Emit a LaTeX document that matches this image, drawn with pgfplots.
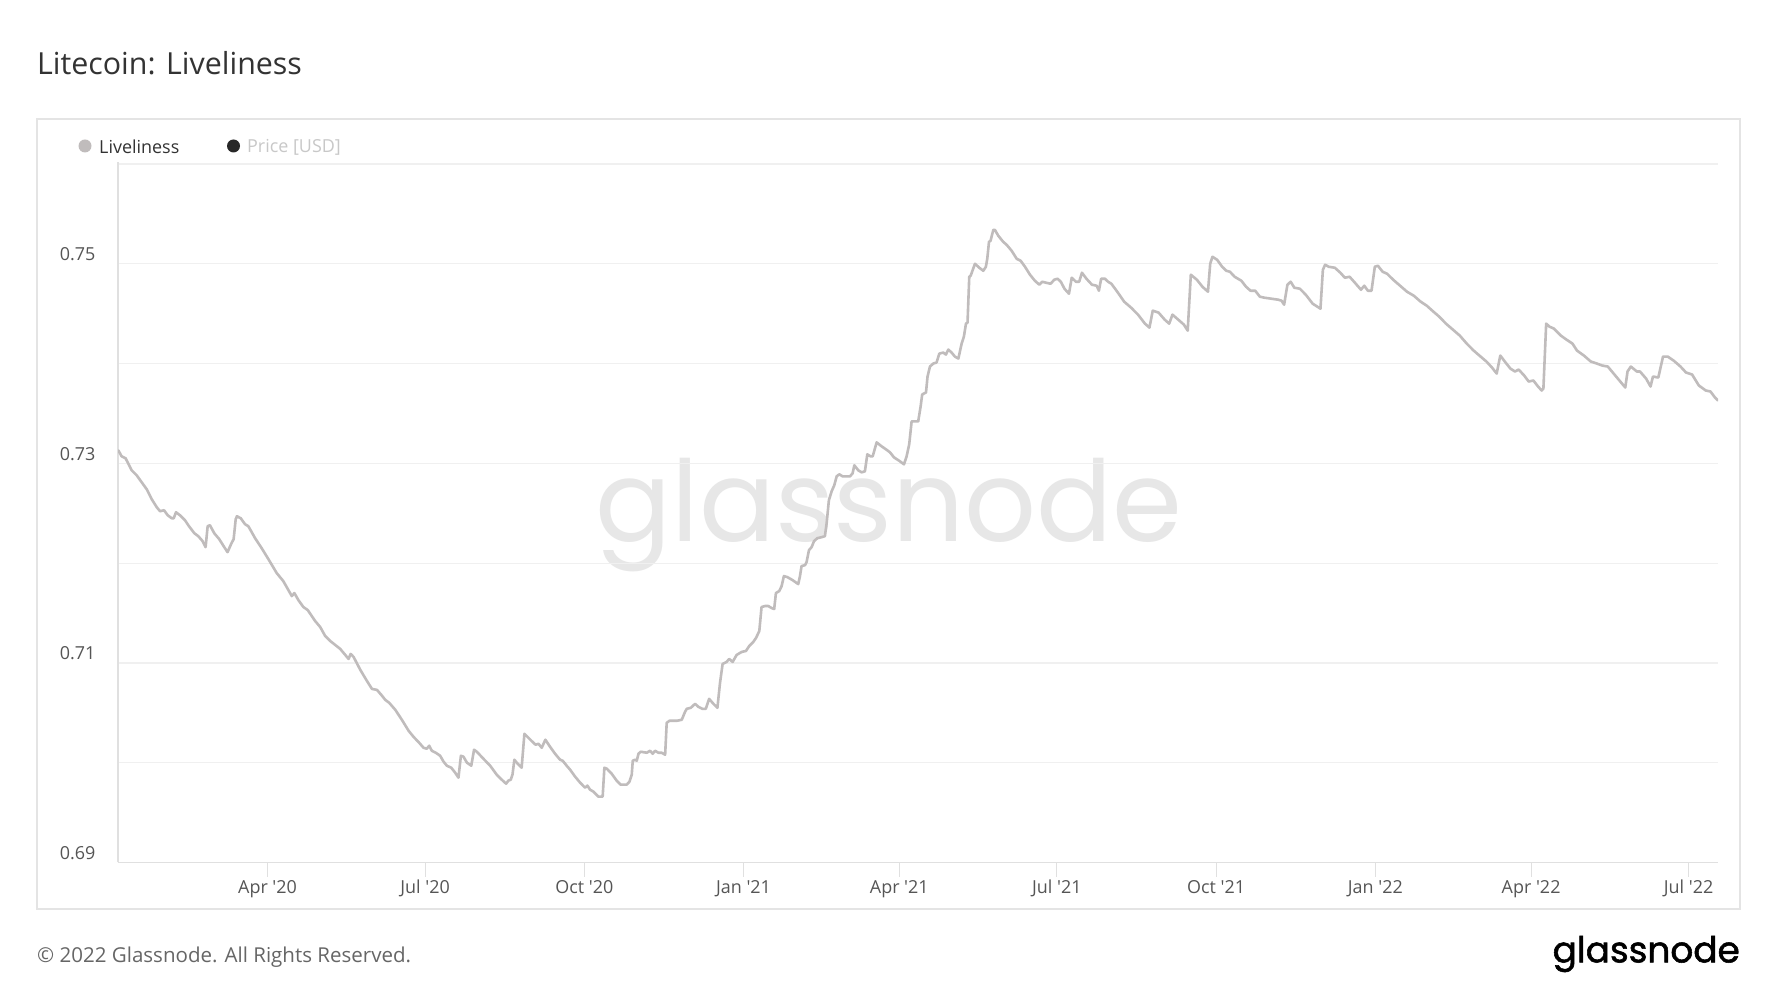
\documentclass[border=0pt]{standalone}
\usepackage{fontspec}
\setmainfont{Open Sans}
\newfontfamily\wmfont{Poppins}
\newfontfamily\logofont[FakeBold=1.5]{Poppins}
\usepackage{pgfplots}
\usepackage{pgfplotstable}
\pgfplotsset{compat=1.18}
\definecolor{linegray}{RGB}{192,188,188}
\definecolor{gridgray}{RGB}{240,240,240}
\definecolor{axisgray}{RGB}{224,224,224}
\definecolor{boxgray}{RGB}{228,228,228}
\definecolor{wmgray}{RGB}{231,231,231}
\definecolor{titlecol}{RGB}{51,51,51}
\definecolor{tickcol}{RGB}{85,85,85}
\definecolor{footcol}{RGB}{102,102,102}
\definecolor{legdark}{RGB}{40,40,40}
\definecolor{leglight}{RGB}{200,200,200}

\pgfplotstableread{
day val
4.8 0.7313
6.7 0.7307
9.0 0.7305
12.5 0.7293
15.4 0.7288
18.3 0.7281
21.2 0.7274
24.1 0.7264
27.0 0.7256
28.9 0.7252
31.2 0.7253
33.3 0.7248
35.6 0.7245
36.8 0.7245
38.1 0.7251
40.4 0.7248
43.3 0.7243
45.6 0.7237
48.7 0.7230
51.0 0.7227
53.5 0.7222
55.2 0.7216
56.4 0.7237
57.7 0.7238
60.2 0.7230
63.1 0.7224
66.0 0.7216
67.9 0.7211
69.9 0.7219
71.4 0.7224
72.6 0.7244
73.3 0.7247
75.5 0.7245
78.0 0.7239
79.9 0.7237
83.8 0.7225
87.6 0.7215
91.5 0.7204
96.3 0.7190
100.1 0.7182
105.0 0.7167
106.5 0.7170
108.8 0.7163
111.7 0.7156
114.2 0.7153
118.5 0.7142
121.4 0.7136
124.3 0.7127
127.2 0.7122
130.1 0.7118
133.0 0.7114
135.9 0.7108
137.8 0.7104
139.0 0.7109
140.7 0.7106
144.6 0.7093
148.4 0.7082
151.3 0.7074
154.2 0.7073
156.7 0.7068
159.0 0.7063
161.3 0.7060
164.8 0.7053
168.6 0.7043
172.5 0.7032
175.3 0.7026
178.6 0.7020
181.1 0.7015
183.0 0.7014
184.4 0.7017
185.9 0.7012
188.2 0.7010
190.7 0.7007
192.7 0.7001
194.6 0.6997
197.1 0.6995
199.4 0.6990
201.3 0.6985
202.7 0.7007
204.2 0.7006
206.2 0.7000
208.7 0.6997
210.3 0.7013
211.9 0.7011
215.7 0.7004
219.6 0.6997
223.4 0.6988
226.3 0.6983
228.8 0.6979
230.1 0.6982
231.5 0.6983
232.5 0.6988
233.6 0.7003
235.0 0.7000
237.8 0.6995
239.4 0.7029
241.7 0.7025
244.6 0.7020
245.9 0.7018
247.5 0.7019
249.4 0.7015
251.5 0.7023
254.2 0.7016
257.1 0.7009
260.0 0.7003
261.5 0.7002
263.8 0.6997
265.8 0.6993
268.7 0.6986
271.6 0.6980
274.4 0.6975
275.8 0.6977
277.3 0.6973
279.3 0.6971
282.1 0.6966
284.6 0.6966
285.6 0.6995
287.0 0.6994
289.8 0.6989
292.7 0.6982
295.0 0.6978
298.5 0.6978
300.1 0.6981
301.4 0.6988
302.0 0.7002
303.3 0.7003
304.3 0.7002
305.3 0.7009
306.6 0.7011
310.1 0.7010
312.0 0.7012
313.5 0.7009
314.9 0.7012
316.8 0.7010
318.7 0.7010
320.7 0.7008
321.6 0.7040
323.2 0.7042
327.4 0.7042
330.3 0.7043
332.2 0.7051
333.2 0.7054
335.5 0.7055
338.0 0.7059
339.9 0.7056
342.2 0.7054
344.2 0.7054
346.1 0.7064
348.6 0.7059
350.9 0.7055
352.4 0.7080
353.9 0.7099
356.2 0.7101
357.7 0.7104
359.7 0.7101
362.0 0.7108
364.9 0.7111
367.4 0.7112
369.3 0.7117
371.6 0.7121
373.2 0.7125
375.1 0.7132
376.4 0.7156
378.4 0.7157
380.3 0.7157
382.2 0.7155
383.7 0.7154
384.7 0.7170
386.6 0.7172
388.0 0.7177
389.3 0.7187
391.3 0.7186
394.3 0.7183
397.6 0.7179
398.6 0.7187
399.5 0.7197
401.5 0.7198
402.4 0.7201
403.8 0.7213
405.3 0.7216
406.7 0.7222
408.6 0.7225
411.1 0.7226
413.0 0.7227
414.0 0.7240
415.3 0.7263
416.9 0.7272
418.4 0.7278
419.8 0.7287
421.3 0.7289
423.2 0.7287
425.5 0.7287
427.5 0.7287
429.0 0.7290
430.0 0.7298
432.3 0.7293
434.2 0.7291
436.1 0.7292
437.5 0.7309
439.4 0.7307
440.6 0.7307
442.9 0.7321
445.8 0.7317
448.3 0.7314
450.6 0.7311
452.9 0.7306
456.4 0.7302
458.7 0.7299
460.2 0.7307
461.7 0.7319
463.1 0.7342
464.1 0.7342
466.9 0.7342
468.3 0.7357
469.2 0.7369
471.4 0.7371
472.3 0.7387
473.7 0.7397
475.6 0.7400
477.5 0.7401
479.1 0.7410
481.4 0.7411
482.9 0.7409
484.3 0.7414
486.2 0.7411
488.1 0.7407
490.1 0.7405
492.0 0.7420
493.3 0.7427
494.5 0.7440
495.4 0.7441
496.4 0.7487
497.2 0.7488
499.7 0.7500
502.2 0.7496
504.5 0.7493
506.0 0.7497
506.8 0.7505
507.8 0.7522
508.7 0.7523
510.3 0.7534
511.2 0.7534
513.2 0.7528
516.0 0.7522
518.0 0.7519
520.9 0.7513
523.8 0.7505
526.1 0.7503
528.6 0.7497
531.5 0.7489
534.3 0.7483
536.9 0.7479
538.6 0.7482
540.8 0.7481
543.4 0.7480
545.5 0.7484
547.4 0.7485
549.3 0.7482
551.4 0.7475
554.0 0.7470
555.6 0.7486
558.0 0.7482
559.9 0.7482
561.5 0.7491
564.1 0.7485
567.3 0.7479
570.0 0.7478
571.3 0.7473
572.6 0.7485
574.8 0.7485
576.6 0.7482
578.5 0.7480
581.9 0.7472
585.9 0.7462
589.9 0.7456
593.9 0.7449
597.9 0.7440
600.5 0.7436
602.4 0.7453
605.8 0.7451
609.3 0.7444
611.9 0.7440
613.8 0.7449
617.8 0.7443
620.4 0.7439
622.6 0.7433
624.4 0.7489
627.9 0.7484
631.1 0.7477
634.3 0.7472
635.6 0.7500
636.9 0.7507
639.6 0.7504
642.5 0.7497
644.9 0.7493
647.0 0.7492
649.7 0.7487
653.6 0.7483
656.3 0.7477
658.9 0.7473
661.6 0.7473
664.3 0.7467
666.9 0.7466
670.9 0.7465
674.9 0.7464
676.8 0.7463
678.3 0.7459
680.2 0.7479
682.1 0.7482
684.2 0.7476
687.4 0.7475
690.8 0.7469
694.8 0.7460
697.5 0.7457
699.3 0.7455
700.7 0.7494
702.0 0.7499
704.1 0.7497
707.6 0.7496
710.8 0.7491
713.4 0.7486
716.1 0.7487
719.2 0.7481
722.7 0.7474
724.6 0.7478
726.7 0.7473
728.8 0.7473
730.7 0.7497
732.5 0.7498
735.2 0.7492
737.8 0.7490
741.3 0.7484
745.3 0.7478
749.3 0.7472
753.2 0.7468
757.2 0.7462
760.7 0.7458
763.9 0.7453
767.9 0.7447
771.8 0.7440
775.8 0.7434
779.8 0.7428
783.8 0.7420
787.8 0.7413
791.8 0.7407
795.2 0.7402
798.4 0.7396
801.1 0.7390
803.2 0.7408
805.8 0.7402
809.0 0.7395
811.7 0.7392
813.8 0.7394
817.0 0.7388
819.6 0.7382
822.3 0.7383
825.0 0.7377
827.1 0.7373
828.1 0.7375
829.7 0.7440
831.6 0.7437
834.2 0.7435
838.2 0.7428
841.4 0.7424
844.9 0.7420
847.5 0.7413
851.5 0.7408
855.5 0.7402
859.0 0.7400
862.1 0.7398
865.3 0.7397
870.1 0.7387
875.4 0.7376
876.7 0.7392
878.6 0.7397
882.1 0.7392
883.9 0.7392
887.4 0.7385
890.0 0.7377
891.4 0.7387
894.5 0.7386
897.2 0.7407
899.9 0.7407
903.3 0.7403
907.3 0.7397
910.5 0.7391
914.0 0.7389
917.9 0.7378
921.9 0.7373
924.6 0.7372
927.2 0.7366
929.0 0.7363
}\livetable

\begin{document}
\begin{tikzpicture}[x=1bp,y=1bp]
\fill[white] (0,0) rectangle (1777,1000);
\draw[boxgray, line width=1.5bp] (37,91) rectangle (1740,881);
% title
\node[anchor=west, inner sep=0pt, text=titlecol] at (37,937) {\fontsize{30.5}{36}\selectfont Litecoin: Liveliness};
% legend
\fill[linegray] (85,854) circle (6.5);
\node[anchor=west, inner sep=0pt, text=titlecol] at (99,853) {\fontsize{18}{21}\selectfont Liveliness};
\fill[legdark] (233.5,854) circle (6.5);
\node[anchor=west, inner sep=0pt, text=leglight] at (247,853) {\fontsize{18}{21}\selectfont Price [USD]};
% watermark
\node[inner sep=0pt, text=wmgray] at (889,484.5) {\wmfont\fontsize{113}{120}\selectfont glassnode};
% footer
\node[anchor=west, inner sep=0pt, text=footcol] at (37,42.5) {\fontsize{20.6}{25}\selectfont © 2022 Glassnode. All Rights Reserved.};
\node[anchor=east, inner sep=0pt, text=black] at (1740,46) {\logofont\fontsize{36}{40}\selectfont glassnode};
\begin{axis}[
  at={(118bp,137.5bp)}, anchor=south west,
  scale only axis, width=1600bp, height=700.5bp,
  xmin=4.6, xmax=929, ymin=0.69, ymax=0.7602,
  axis x line*=bottom, axis y line*=left,
  axis line style={-, draw=axisgray, line width=1.5bp},
  every outer x axis line/.append style={-},
  every outer y axis line/.append style={-},
  xtick={91,182,274,366,456,547,639,731,821,912},
  xticklabels={Apr \textquotesingle20,Jul \textquotesingle20,Oct \textquotesingle20,Jan \textquotesingle21,Apr \textquotesingle21,Jul \textquotesingle21,Oct \textquotesingle21,Jan \textquotesingle22,Apr \textquotesingle22,Jul \textquotesingle22},
  ytick={0.69,0.70,0.71,0.72,0.73,0.74,0.75,0.76},
  yticklabels={0.69,,0.71,,0.73,,0.75,},
  ymajorgrids,
  major grid style={draw=gridgray, line width=1.2bp},
  tick align=outside,
  major tick length=14bp,
  x tick style={draw=axisgray, line width=1bp},
  y tick style={draw=none},
  tick label style={font=\fontsize{18}{21}\selectfont, text=tickcol, inner sep=0pt},
  xticklabel style={anchor=base, yshift=-16.5bp},
  yticklabel style={anchor=base east, xshift=-8.5bp, yshift=3bp},
]
\addplot[linegray, line width=2.6bp, line join=round, line cap=round] table[x=day,y=val]{\livetable};
\end{axis}
\end{tikzpicture}
\end{document}
